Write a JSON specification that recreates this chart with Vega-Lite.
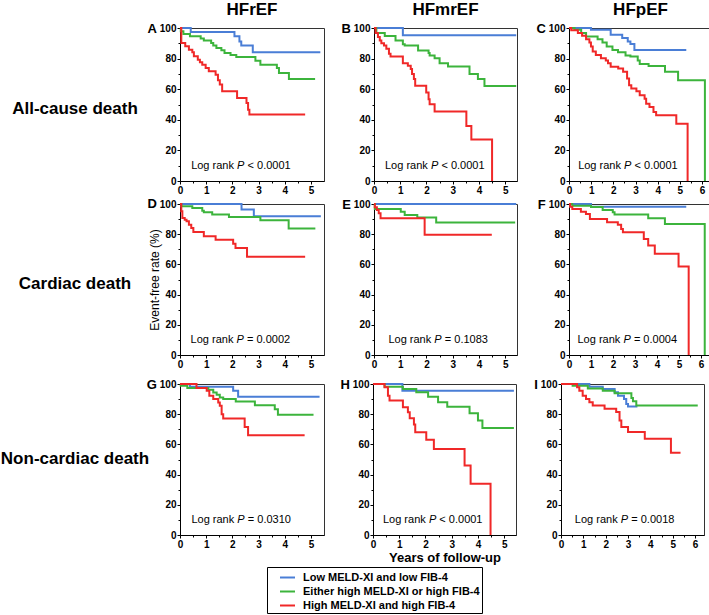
{
  "$schema": "https://vega.github.io/schema/vega-lite/v6.json",
  "background": "white",
  "padding": {"left": 0, "top": 0, "right": 0, "bottom": 0},
  "config": {
    "font": "Liberation Sans",
    "view": {"stroke": "#333", "strokeWidth": 1},
    "axis": {"domainColor": "#000", "domainWidth": 1, "tickColor": "#000", "tickWidth": 1, "labelFontWeight": "bold", "labelFontSize": 10, "labelColor": "#000", "labelPadding": 1, "labelFlush": false, "labelOverlap": false, "grid": false, "titleColor": "#000"},
    "axisX": {"titleFontSize": 13, "titleFontWeight": "bold", "titlePadding": 2},
    "title": {"font": "Liberation Sans", "fontWeight": "bold", "color": "#000"},
    "text": {"color": "#000"}
  },
  "datasets": {
    "stats": [
      {"p": "A", "a": "Log rank", "pv": "P", "b": "< 0.0001"},
      {"p": "B", "a": "Log rank", "pv": "P", "b": "< 0.0001"},
      {"p": "C", "a": "Log rank", "pv": "P", "b": "< 0.0001"},
      {"p": "D", "a": "Log rank", "pv": "P", "b": "= 0.0002"},
      {"p": "E", "a": "Log rank", "pv": "P", "b": "= 0.1083"},
      {"p": "F", "a": "Log rank", "pv": "P", "b": "= 0.0004"},
      {"p": "G", "a": "Log rank", "pv": "P", "b": "= 0.0310"},
      {"p": "H", "a": "Log rank", "pv": "P", "b": "< 0.0001"},
      {"p": "I", "a": "Log rank", "pv": "P", "b": "= 0.0018"}
    ],
    "km": [
      {"p":"A","g":"L","t":0,"s":100},{"p":"A","g":"L","t":0.41,"s":97.4},{"p":"A","g":"L","t":2.08,"s":94.6},{"p":"A","g":"L","t":2.27,"s":91.1},{"p":"A","g":"L","t":2.34,"s":88.5},{"p":"A","g":"L","t":2.78,"s":84.1},{"p":"A","g":"L","t":5.36,"s":84.1},
      {"p":"A","g":"E","t":0,"s":100},{"p":"A","g":"E","t":0.03,"s":97.8},{"p":"A","g":"E","t":0.13,"s":96.1},{"p":"A","g":"E","t":0.38,"s":94.6},{"p":"A","g":"E","t":0.79,"s":93.2},{"p":"A","g":"E","t":0.91,"s":91.9},{"p":"A","g":"E","t":1.19,"s":90.2},{"p":"A","g":"E","t":1.27,"s":88.5},{"p":"A","g":"E","t":1.39,"s":86.9},{"p":"A","g":"E","t":1.58,"s":85.4},{"p":"A","g":"E","t":1.7,"s":83.7},{"p":"A","g":"E","t":1.93,"s":82.4},{"p":"A","g":"E","t":2.15,"s":81},{"p":"A","g":"E","t":2.88,"s":78.6},{"p":"A","g":"E","t":3.07,"s":76},{"p":"A","g":"E","t":3.7,"s":73.9},{"p":"A","g":"E","t":3.78,"s":70.6},{"p":"A","g":"E","t":4.16,"s":66.7},{"p":"A","g":"E","t":5.16,"s":66.7},
      {"p":"A","g":"H","t":0,"s":100},{"p":"A","g":"H","t":0.05,"s":90.2},{"p":"A","g":"H","t":0.2,"s":88},{"p":"A","g":"H","t":0.34,"s":85.8},{"p":"A","g":"H","t":0.47,"s":84.1},{"p":"A","g":"H","t":0.53,"s":81.5},{"p":"A","g":"H","t":0.68,"s":79.3},{"p":"A","g":"H","t":0.76,"s":77.6},{"p":"A","g":"H","t":0.85,"s":76},{"p":"A","g":"H","t":0.98,"s":73.9},{"p":"A","g":"H","t":1.1,"s":71.7},{"p":"A","g":"H","t":1.36,"s":69.5},{"p":"A","g":"H","t":1.45,"s":65.8},{"p":"A","g":"H","t":1.52,"s":63},{"p":"A","g":"H","t":1.61,"s":58.6},{"p":"A","g":"H","t":2.18,"s":54.2},{"p":"A","g":"H","t":2.54,"s":50.9},{"p":"A","g":"H","t":2.6,"s":46.5},{"p":"A","g":"H","t":2.65,"s":43.4},{"p":"A","g":"H","t":4.78,"s":43.4},

      {"p":"B","g":"L","t":0,"s":100},{"p":"B","g":"L","t":1.1,"s":95.2},{"p":"B","g":"L","t":5.42,"s":95.2},
      {"p":"B","g":"E","t":0,"s":100},{"p":"B","g":"E","t":0.09,"s":96.7},{"p":"B","g":"E","t":0.41,"s":94.7},{"p":"B","g":"E","t":0.82,"s":91.9},{"p":"B","g":"E","t":1.1,"s":89.3},{"p":"B","g":"E","t":1.17,"s":88.6},{"p":"B","g":"E","t":1.68,"s":85.3},{"p":"B","g":"E","t":2.08,"s":83.6},{"p":"B","g":"E","t":2.12,"s":82},{"p":"B","g":"E","t":2.31,"s":80.3},{"p":"B","g":"E","t":2.5,"s":77},{"p":"B","g":"E","t":2.82,"s":74.8},{"p":"B","g":"E","t":3.64,"s":70},{"p":"B","g":"E","t":3.96,"s":66.7},{"p":"B","g":"E","t":4.21,"s":62.1},{"p":"B","g":"E","t":5.42,"s":62.1},
      {"p":"B","g":"H","t":0,"s":100},{"p":"B","g":"H","t":0.06,"s":96.7},{"p":"B","g":"H","t":0.15,"s":94.1},{"p":"B","g":"H","t":0.22,"s":91.9},{"p":"B","g":"H","t":0.28,"s":90.1},{"p":"B","g":"H","t":0.38,"s":88.6},{"p":"B","g":"H","t":0.47,"s":86.4},{"p":"B","g":"H","t":0.57,"s":83.1},{"p":"B","g":"H","t":0.63,"s":81.4},{"p":"B","g":"H","t":1.1,"s":77},{"p":"B","g":"H","t":1.29,"s":75.4},{"p":"B","g":"H","t":1.4,"s":73.2},{"p":"B","g":"H","t":1.45,"s":70},{"p":"B","g":"H","t":1.52,"s":66.7},{"p":"B","g":"H","t":1.57,"s":62.3},{"p":"B","g":"H","t":1.99,"s":57.9},{"p":"B","g":"H","t":2.08,"s":53.5},{"p":"B","g":"H","t":2.12,"s":50.2},{"p":"B","g":"H","t":2.31,"s":45.4},{"p":"B","g":"H","t":3.52,"s":36},{"p":"B","g":"H","t":3.71,"s":27.2},{"p":"B","g":"H","t":4.5,"s":0},

      {"p":"C","g":"L","t":0,"s":100},{"p":"C","g":"L","t":0.99,"s":98.9},{"p":"C","g":"L","t":1.88,"s":95.6},{"p":"C","g":"L","t":2.4,"s":93.4},{"p":"C","g":"L","t":2.65,"s":91.2},{"p":"C","g":"L","t":2.77,"s":89.5},{"p":"C","g":"L","t":2.95,"s":85.7},{"p":"C","g":"L","t":5.29,"s":85.7},
      {"p":"C","g":"E","t":0,"s":100},{"p":"C","g":"E","t":0.25,"s":98.9},{"p":"C","g":"E","t":0.55,"s":96.7},{"p":"C","g":"E","t":0.77,"s":94.5},{"p":"C","g":"E","t":1.29,"s":92.7},{"p":"C","g":"E","t":1.51,"s":90.5},{"p":"C","g":"E","t":1.7,"s":87.9},{"p":"C","g":"E","t":1.96,"s":85.7},{"p":"C","g":"E","t":2.21,"s":84.2},{"p":"C","g":"E","t":2.55,"s":82},{"p":"C","g":"E","t":2.77,"s":81.3},{"p":"C","g":"E","t":3.1,"s":78.7},{"p":"C","g":"E","t":3.19,"s":76.5},{"p":"C","g":"E","t":3.59,"s":75.2},{"p":"C","g":"E","t":4.33,"s":71.4},{"p":"C","g":"E","t":4.92,"s":65.9},{"p":"C","g":"E","t":6.13,"s":0},
      {"p":"C","g":"H","t":0,"s":100},{"p":"C","g":"H","t":0.1,"s":98.5},{"p":"C","g":"H","t":0.4,"s":96.7},{"p":"C","g":"H","t":0.59,"s":94.9},{"p":"C","g":"H","t":0.77,"s":92.7},{"p":"C","g":"H","t":0.92,"s":90.5},{"p":"C","g":"H","t":0.99,"s":87.9},{"p":"C","g":"H","t":1.07,"s":84.6},{"p":"C","g":"H","t":1.21,"s":82.4},{"p":"C","g":"H","t":1.44,"s":80.2},{"p":"C","g":"H","t":1.66,"s":78.7},{"p":"C","g":"H","t":1.76,"s":76.9},{"p":"C","g":"H","t":1.88,"s":74.7},{"p":"C","g":"H","t":2.22,"s":73.6},{"p":"C","g":"H","t":2.44,"s":71.4},{"p":"C","g":"H","t":2.62,"s":67},{"p":"C","g":"H","t":2.71,"s":62.6},{"p":"C","g":"H","t":2.81,"s":60.4},{"p":"C","g":"H","t":3.04,"s":58.7},{"p":"C","g":"H","t":3.19,"s":56},{"p":"C","g":"H","t":3.41,"s":53.8},{"p":"C","g":"H","t":3.48,"s":50.5},{"p":"C","g":"H","t":3.63,"s":48.4},{"p":"C","g":"H","t":3.81,"s":45.1},{"p":"C","g":"H","t":3.93,"s":42.9},{"p":"C","g":"H","t":4.84,"s":37.4},{"p":"C","g":"H","t":5.35,"s":0},

      {"p":"D","g":"L","t":0,"s":100},{"p":"D","g":"L","t":2.35,"s":96.3},{"p":"D","g":"L","t":2.82,"s":91.9},{"p":"D","g":"L","t":5.38,"s":91.9},
      {"p":"D","g":"E","t":0,"s":100},{"p":"D","g":"E","t":0.05,"s":98.5},{"p":"D","g":"E","t":0.47,"s":97.4},{"p":"D","g":"E","t":0.85,"s":95.6},{"p":"D","g":"E","t":0.91,"s":94.5},{"p":"D","g":"E","t":1.23,"s":93},{"p":"D","g":"E","t":1.87,"s":91.4},{"p":"D","g":"E","t":3.07,"s":89.2},{"p":"D","g":"E","t":4.15,"s":83.7},{"p":"D","g":"E","t":5.17,"s":83.7},
      {"p":"D","g":"H","t":0,"s":100},{"p":"D","g":"H","t":0.05,"s":95.2},{"p":"D","g":"H","t":0.09,"s":90.7},{"p":"D","g":"H","t":0.18,"s":89.6},{"p":"D","g":"H","t":0.25,"s":88.5},{"p":"D","g":"H","t":0.34,"s":86.3},{"p":"D","g":"H","t":0.43,"s":84.1},{"p":"D","g":"H","t":0.51,"s":81.5},{"p":"D","g":"H","t":0.91,"s":78.6},{"p":"D","g":"H","t":1.36,"s":76.4},{"p":"D","g":"H","t":2.03,"s":73.6},{"p":"D","g":"H","t":2.12,"s":70.9},{"p":"D","g":"H","t":2.56,"s":65},{"p":"D","g":"H","t":4.78,"s":65},

      {"p":"E","g":"L","t":0,"s":100},{"p":"E","g":"L","t":5.42,"s":100},
      {"p":"E","g":"E","t":0,"s":100},{"p":"E","g":"E","t":0.03,"s":96.7},{"p":"E","g":"E","t":1.02,"s":94.9},{"p":"E","g":"E","t":1.17,"s":92.7},{"p":"E","g":"E","t":1.65,"s":91},{"p":"E","g":"E","t":2.37,"s":87.7},{"p":"E","g":"E","t":5.38,"s":87.7},
      {"p":"E","g":"H","t":0,"s":100},{"p":"E","g":"H","t":0.03,"s":97.8},{"p":"E","g":"H","t":0.11,"s":96},{"p":"E","g":"H","t":0.18,"s":93.8},{"p":"E","g":"H","t":0.25,"s":90.5},{"p":"E","g":"H","t":1.93,"s":79.6},{"p":"E","g":"H","t":4.49,"s":79.6},

      {"p":"F","g":"L","t":0,"s":100},{"p":"F","g":"L","t":1.0,"s":98.2},{"p":"F","g":"L","t":5.33,"s":98.2},
      {"p":"F","g":"E","t":0,"s":100},{"p":"F","g":"E","t":0.15,"s":98.9},{"p":"F","g":"E","t":1.0,"s":98},{"p":"F","g":"E","t":1.53,"s":96},{"p":"F","g":"E","t":1.99,"s":94.5},{"p":"F","g":"E","t":2.07,"s":93},{"p":"F","g":"E","t":3.6,"s":90.5},{"p":"F","g":"E","t":4.36,"s":86.8},{"p":"F","g":"E","t":6.17,"s":0},
      {"p":"F","g":"H","t":0,"s":100},{"p":"F","g":"H","t":0.05,"s":98.2},{"p":"F","g":"H","t":0.15,"s":96.7},{"p":"F","g":"H","t":0.54,"s":94.9},{"p":"F","g":"H","t":0.77,"s":93.4},{"p":"F","g":"H","t":0.95,"s":90.1},{"p":"F","g":"H","t":1.73,"s":87.9},{"p":"F","g":"H","t":2.22,"s":86.3},{"p":"F","g":"H","t":2.37,"s":83.5},{"p":"F","g":"H","t":2.45,"s":81.3},{"p":"F","g":"H","t":3.4,"s":76.9},{"p":"F","g":"H","t":3.6,"s":72.5},{"p":"F","g":"H","t":3.9,"s":67},{"p":"F","g":"H","t":4.98,"s":58.6},{"p":"F","g":"H","t":5.44,"s":0},

      {"p":"G","g":"L","t":0,"s":100},{"p":"G","g":"L","t":0.38,"s":98.2},{"p":"G","g":"L","t":2.03,"s":95.6},{"p":"G","g":"L","t":2.22,"s":91.6},{"p":"G","g":"L","t":5.33,"s":91.6},
      {"p":"G","g":"E","t":0,"s":100},{"p":"G","g":"E","t":0.03,"s":98.9},{"p":"G","g":"E","t":0.28,"s":97.3},{"p":"G","g":"E","t":1.08,"s":96.2},{"p":"G","g":"E","t":1.27,"s":94.4},{"p":"G","g":"E","t":1.4,"s":92.9},{"p":"G","g":"E","t":1.52,"s":91.1},{"p":"G","g":"E","t":1.65,"s":90},{"p":"G","g":"E","t":2.13,"s":88.4},{"p":"G","g":"E","t":2.86,"s":86},{"p":"G","g":"E","t":3.62,"s":83.3},{"p":"G","g":"E","t":3.74,"s":79.6},{"p":"G","g":"E","t":5.1,"s":79.6},
      {"p":"G","g":"H","t":0,"s":100},{"p":"G","g":"H","t":0.63,"s":97.3},{"p":"G","g":"H","t":1.02,"s":95.6},{"p":"G","g":"H","t":1.12,"s":92.2},{"p":"G","g":"H","t":1.27,"s":90},{"p":"G","g":"H","t":1.46,"s":87.8},{"p":"G","g":"H","t":1.52,"s":85.6},{"p":"G","g":"H","t":1.59,"s":80},{"p":"G","g":"H","t":1.65,"s":77.1},{"p":"G","g":"H","t":2.47,"s":71.6},{"p":"G","g":"H","t":2.6,"s":66},{"p":"G","g":"H","t":4.76,"s":66},

      {"p":"H","g":"L","t":0,"s":100},{"p":"H","g":"L","t":1.12,"s":95.6},{"p":"H","g":"L","t":5.37,"s":95.6},
      {"p":"H","g":"E","t":0,"s":100},{"p":"H","g":"E","t":0.44,"s":98.2},{"p":"H","g":"E","t":1.14,"s":96.7},{"p":"H","g":"E","t":1.65,"s":94.5},{"p":"H","g":"E","t":2.1,"s":91.6},{"p":"H","g":"E","t":2.48,"s":87.9},{"p":"H","g":"E","t":2.83,"s":85},{"p":"H","g":"E","t":3.68,"s":80.6},{"p":"H","g":"E","t":4.0,"s":75.8},{"p":"H","g":"E","t":4.17,"s":70.9},{"p":"H","g":"E","t":5.37,"s":70.9},
      {"p":"H","g":"H","t":0,"s":100},{"p":"H","g":"H","t":0.44,"s":97.8},{"p":"H","g":"H","t":0.57,"s":92.3},{"p":"H","g":"H","t":0.63,"s":89},{"p":"H","g":"H","t":1.14,"s":84.6},{"p":"H","g":"H","t":1.33,"s":81.3},{"p":"H","g":"H","t":1.4,"s":77.3},{"p":"H","g":"H","t":1.56,"s":73.1},{"p":"H","g":"H","t":1.61,"s":68},{"p":"H","g":"H","t":2.03,"s":63},{"p":"H","g":"H","t":2.32,"s":57},{"p":"H","g":"H","t":3.49,"s":46},{"p":"H","g":"H","t":3.72,"s":33.9},{"p":"H","g":"H","t":4.48,"s":0},

      {"p":"I","g":"L","t":0,"s":100},{"p":"I","g":"L","t":1.27,"s":98.2},{"p":"I","g":"L","t":1.87,"s":96.7},{"p":"I","g":"L","t":2.4,"s":94.5},{"p":"I","g":"L","t":2.55,"s":92.3},{"p":"I","g":"L","t":2.82,"s":90.1},{"p":"I","g":"L","t":2.92,"s":86.8},{"p":"I","g":"L","t":3.0,"s":85.1},{"p":"I","g":"L","t":3.42,"s":85.1},
      {"p":"I","g":"E","t":0,"s":100},{"p":"I","g":"E","t":0.52,"s":98.9},{"p":"I","g":"E","t":1.2,"s":97.1},{"p":"I","g":"E","t":1.87,"s":95.6},{"p":"I","g":"E","t":2.4,"s":93.9},{"p":"I","g":"E","t":3.15,"s":90.8},{"p":"I","g":"E","t":3.22,"s":88.6},{"p":"I","g":"E","t":3.37,"s":85.7},{"p":"I","g":"E","t":6.12,"s":85.7},
      {"p":"I","g":"H","t":0,"s":100},{"p":"I","g":"H","t":0.72,"s":97.8},{"p":"I","g":"H","t":0.82,"s":95.6},{"p":"I","g":"H","t":0.97,"s":92.3},{"p":"I","g":"H","t":1.12,"s":90.1},{"p":"I","g":"H","t":1.27,"s":87.9},{"p":"I","g":"H","t":1.42,"s":85.7},{"p":"I","g":"H","t":1.95,"s":83.6},{"p":"I","g":"H","t":2.47,"s":81.4},{"p":"I","g":"H","t":2.62,"s":75.9},{"p":"I","g":"H","t":2.7,"s":71.5},{"p":"I","g":"H","t":3.0,"s":68.2},{"p":"I","g":"H","t":3.75,"s":63.8},{"p":"I","g":"H","t":4.92,"s":54.4},{"p":"I","g":"H","t":5.35,"s":54.4}
    ]
  },
  "hconcat": [
    {
      "width": 148, "height": 512,
      "view": {"stroke": null},
      "data": {"values": [{"lab": "All-cause death"}, {"lab": "Cardiac death"}, {"lab": "Non-cardiac death"}]},
      "mark": {"type": "text", "fontSize": 17, "fontWeight": "bold", "baseline": "middle"},
      "encoding": {
        "y": {"field": "lab", "type": "nominal", "sort": null, "scale": {"type": "point", "padding": 0.463}, "axis": null},
        "text": {"field": "lab"}
      }
    },
    {
      "vconcat": [
        {
          "concat": [
            {
              "width": 144, "height": 153,
              "title": {"text": "HFrEF", "fontSize": 17, "anchor": "middle", "frame": "group", "baseline": "alphabetic", "offset": -10},
              "resolve": {"axis": {"x": "independent", "y": "independent"}},
              "layer": [
                {"data": {"name": "km"}, "transform": [{"filter": "datum.p == 'A'"}],
                 "mark": {"type": "line", "interpolate": "step-after", "strokeWidth": 2},
                 "encoding": {
                   "x": {"field": "t", "type": "quantitative", "scale": {"domain": [0, 5.5], "nice": false, "zero": false},
                         "axis": {"orient": "bottom", "values": [0,1,2,3,4,5], "tickSize": 3, "labelOverlap": false, "title": null}},
                   "y": {"field": "s", "type": "quantitative", "scale": {"domain": [0, 100], "nice": false},
                         "axis": {"orient": "left", "values": [0,20,40,60,80,100], "tickSize": 3, "labelOverlap": false,
                                  "title": "A", "titleAngle": 0, "titleAnchor": "end", "titleAlign": "right", "titleBaseline": "middle", "titleFontSize": 13, "titleFontWeight": "bold", "titlePadding": 3}},
                   "color": {"field": "g", "type": "nominal", "scale": {"domain": ["L", "E", "H"], "range": ["#4a7ed6", "#3cb43c", "#f02828"]},
                             "legend": {"orient": "none", "legendX": 266, "legendY": 539, "title": null, "direction": "vertical", "symbolType": "stroke", "symbolSize": 225, "symbolStrokeWidth": 2, "labelFontSize": 11, "labelFontWeight": "bold", "labelColor": "#000", "strokeColor": "#000", "fillColor": "white", "padding": 2, "symbolOffset": 10, "rowPadding": -0.7, "labelOffset": 7, "labelLimit": 400,
                                        "labelExpr": "datum.label == 'L' ? 'Low MELD-XI and low FIB-4' : datum.label == 'E' ? 'Either high MELD-XI or high FIB-4' : 'High MELD-XI and high FIB-4'"}}
                 }},
                {"data": {"name": "stats"}, "transform": [{"filter": "datum.p == 'A'"}],
                 "mark": {"type": "text", "fontSize": 11, "baseline": "middle", "align": "right", "dx": -6.8},
                 "encoding": {"x": {"datum": 2.32, "axis": null}, "y": {"datum": 10, "axis": null}, "text": {"field": "a"}}},
                {"data": {"name": "stats"}, "transform": [{"filter": "datum.p == 'A'"}],
                 "mark": {"type": "text", "fontSize": 11, "baseline": "middle", "align": "center", "fontStyle": "italic"},
                 "encoding": {"x": {"datum": 2.32, "axis": null}, "y": {"datum": 10, "axis": null}, "text": {"field": "pv"}}},
                {"data": {"name": "stats"}, "transform": [{"filter": "datum.p == 'A'"}],
                 "mark": {"type": "text", "fontSize": 11, "baseline": "middle", "align": "left", "dx": 6.8},
                 "encoding": {"x": {"datum": 2.32, "axis": null}, "y": {"datum": 10, "axis": null}, "text": {"field": "b"}}},
                {"data": {"name": "stats"}, "transform": [{"filter": "datum.p == 'A'"}],
                 "mark": {"type": "point", "opacity": 0},
                 "encoding": {"x": {"datum": 0, "axis": {"orient": "bottom", "values": [0.5,1.5,2.5,3.5,4.5], "labels": false, "domain": false, "tickSize": 2, "title": null}},
                              "y": {"datum": 0, "axis": {"orient": "left", "values": [10,30,50,70,90], "labels": false, "domain": false, "tickSize": 2, "title": null}}}}
              ]
            },
            {
              "width": 143, "height": 153,
              "title": {"text": "HFmrEF", "fontSize": 17, "anchor": "middle", "frame": "group", "baseline": "alphabetic", "offset": -10},
              "resolve": {"axis": {"x": "independent", "y": "independent"}},
              "layer": [
                {"data": {"name": "km"}, "transform": [{"filter": "datum.p == 'B'"}],
                 "mark": {"type": "line", "interpolate": "step-after", "strokeWidth": 2},
                 "encoding": {
                   "x": {"field": "t", "type": "quantitative", "scale": {"domain": [0, 5.45], "nice": false, "zero": false},
                         "axis": {"orient": "bottom", "values": [0,1,2,3,4,5], "tickSize": 3, "labelOverlap": false, "title": null}},
                   "y": {"field": "s", "type": "quantitative", "scale": {"domain": [0, 100], "nice": false},
                         "axis": {"orient": "left", "values": [0,20,40,60,80,100], "tickSize": 3, "labelOverlap": false,
                                  "title": "B", "titleAngle": 0, "titleAnchor": "end", "titleAlign": "right", "titleBaseline": "middle", "titleFontSize": 13, "titleFontWeight": "bold", "titlePadding": 3}},
                   "color": {"field": "g", "type": "nominal", "scale": {"domain": ["L", "E", "H"], "range": ["#4a7ed6", "#3cb43c", "#f02828"]}}
                 }},
                {"data": {"name": "stats"}, "transform": [{"filter": "datum.p == 'B'"}],
                 "mark": {"type": "text", "fontSize": 11, "baseline": "middle", "align": "right", "dx": -6.8},
                 "encoding": {"x": {"datum": 2.31, "axis": null}, "y": {"datum": 10, "axis": null}, "text": {"field": "a"}}},
                {"data": {"name": "stats"}, "transform": [{"filter": "datum.p == 'B'"}],
                 "mark": {"type": "text", "fontSize": 11, "baseline": "middle", "align": "center", "fontStyle": "italic"},
                 "encoding": {"x": {"datum": 2.31, "axis": null}, "y": {"datum": 10, "axis": null}, "text": {"field": "pv"}}},
                {"data": {"name": "stats"}, "transform": [{"filter": "datum.p == 'B'"}],
                 "mark": {"type": "text", "fontSize": 11, "baseline": "middle", "align": "left", "dx": 6.8},
                 "encoding": {"x": {"datum": 2.31, "axis": null}, "y": {"datum": 10, "axis": null}, "text": {"field": "b"}}},
                {"data": {"name": "stats"}, "transform": [{"filter": "datum.p == 'B'"}],
                 "mark": {"type": "point", "opacity": 0},
                 "encoding": {"x": {"datum": 0, "axis": {"orient": "bottom", "values": [0.5,1.5,2.5,3.5,4.5], "labels": false, "domain": false, "tickSize": 2, "title": null}},
                              "y": {"datum": 0, "axis": {"orient": "left", "values": [10,30,50,70,90], "labels": false, "domain": false, "tickSize": 2, "title": null}}}}
              ]
            },
            {
              "width": 143, "height": 153,
              "title": {"text": "HFpEF", "fontSize": 17, "anchor": "middle", "frame": "group", "baseline": "alphabetic", "offset": -10},
              "resolve": {"axis": {"x": "independent", "y": "independent"}},
              "layer": [
                {"data": {"name": "km"}, "transform": [{"filter": "datum.p == 'C'"}],
                 "mark": {"type": "line", "interpolate": "step-after", "strokeWidth": 2},
                 "encoding": {
                   "x": {"field": "t", "type": "quantitative", "scale": {"domain": [0, 6.45], "nice": false, "zero": false},
                         "axis": {"orient": "bottom", "values": [0,1,2,3,4,5,6], "tickSize": 3, "labelOverlap": false, "title": null}},
                   "y": {"field": "s", "type": "quantitative", "scale": {"domain": [0, 100], "nice": false},
                         "axis": {"orient": "left", "values": [0,20,40,60,80,100], "tickSize": 3, "labelOverlap": false,
                                  "title": "C", "titleAngle": 0, "titleAnchor": "end", "titleAlign": "right", "titleBaseline": "middle", "titleFontSize": 13, "titleFontWeight": "bold", "titlePadding": 3}},
                   "color": {"field": "g", "type": "nominal", "scale": {"domain": ["L", "E", "H"], "range": ["#4a7ed6", "#3cb43c", "#f02828"]}}
                 }},
                {"data": {"name": "stats"}, "transform": [{"filter": "datum.p == 'C'"}],
                 "mark": {"type": "text", "fontSize": 11, "baseline": "middle", "align": "right", "dx": -6.8},
                 "encoding": {"x": {"datum": 2.65, "axis": null}, "y": {"datum": 10, "axis": null}, "text": {"field": "a"}}},
                {"data": {"name": "stats"}, "transform": [{"filter": "datum.p == 'C'"}],
                 "mark": {"type": "text", "fontSize": 11, "baseline": "middle", "align": "center", "fontStyle": "italic"},
                 "encoding": {"x": {"datum": 2.65, "axis": null}, "y": {"datum": 10, "axis": null}, "text": {"field": "pv"}}},
                {"data": {"name": "stats"}, "transform": [{"filter": "datum.p == 'C'"}],
                 "mark": {"type": "text", "fontSize": 11, "baseline": "middle", "align": "left", "dx": 6.8},
                 "encoding": {"x": {"datum": 2.65, "axis": null}, "y": {"datum": 10, "axis": null}, "text": {"field": "b"}}},
                {"data": {"name": "stats"}, "transform": [{"filter": "datum.p == 'C'"}],
                 "mark": {"type": "point", "opacity": 0},
                 "encoding": {"x": {"datum": 0, "axis": {"orient": "bottom", "values": [0.5,1.5,2.5,3.5,4.5,5.5], "labels": false, "domain": false, "tickSize": 2, "title": null}},
                              "y": {"datum": 0, "axis": {"orient": "left", "values": [10,30,50,70,90], "labels": false, "domain": false, "tickSize": 2, "title": null}}}}
              ]
            },
            {
              "width": 144, "height": 151,
              "title": {"text": "D", "fontSize": 13, "anchor": "start", "frame": "group", "baseline": "middle", "offset": -18, "dx": -32.6},
              "resolve": {"axis": {"x": "independent", "y": "independent"}},
              "layer": [
                {"data": {"name": "km"}, "transform": [{"filter": "datum.p == 'D'"}],
                 "mark": {"type": "line", "interpolate": "step-after", "strokeWidth": 2},
                 "encoding": {
                   "x": {"field": "t", "type": "quantitative", "scale": {"domain": [0, 5.5], "nice": false, "zero": false},
                         "axis": {"orient": "bottom", "values": [0,1,2,3,4,5], "tickSize": 3, "labelOverlap": false, "title": null}},
                   "y": {"field": "s", "type": "quantitative", "scale": {"domain": [0, 100], "nice": false},
                         "axis": {"orient": "left", "values": [0,20,40,60,80,100], "tickSize": 3, "labelOverlap": false,
                                  "title": "Event-free rate (%)", "titleFontSize": 12, "titleFontWeight": "normal", "titlePadding": -2}},
                   "color": {"field": "g", "type": "nominal", "scale": {"domain": ["L", "E", "H"], "range": ["#4a7ed6", "#3cb43c", "#f02828"]}}
                 }},
                {"data": {"name": "stats"}, "transform": [{"filter": "datum.p == 'D'"}],
                 "mark": {"type": "text", "fontSize": 11, "baseline": "middle", "align": "right", "dx": -6.8},
                 "encoding": {"x": {"datum": 2.3, "axis": null}, "y": {"datum": 10, "axis": null}, "text": {"field": "a"}}},
                {"data": {"name": "stats"}, "transform": [{"filter": "datum.p == 'D'"}],
                 "mark": {"type": "text", "fontSize": 11, "baseline": "middle", "align": "center", "fontStyle": "italic"},
                 "encoding": {"x": {"datum": 2.3, "axis": null}, "y": {"datum": 10, "axis": null}, "text": {"field": "pv"}}},
                {"data": {"name": "stats"}, "transform": [{"filter": "datum.p == 'D'"}],
                 "mark": {"type": "text", "fontSize": 11, "baseline": "middle", "align": "left", "dx": 6.8},
                 "encoding": {"x": {"datum": 2.3, "axis": null}, "y": {"datum": 10, "axis": null}, "text": {"field": "b"}}},
                {"data": {"name": "stats"}, "transform": [{"filter": "datum.p == 'D'"}],
                 "mark": {"type": "point", "opacity": 0},
                 "encoding": {"x": {"datum": 0, "axis": {"orient": "bottom", "values": [0.5,1.5,2.5,3.5,4.5], "labels": false, "domain": false, "tickSize": 2, "title": null}},
                              "y": {"datum": 0, "axis": {"orient": "left", "values": [10,30,50,70,90], "labels": false, "domain": false, "tickSize": 2, "title": null}}}}
              ]
            },
            {
              "width": 143, "height": 151,
              "resolve": {"axis": {"x": "independent", "y": "independent"}},
              "layer": [
                {"data": {"name": "km"}, "transform": [{"filter": "datum.p == 'E'"}],
                 "mark": {"type": "line", "interpolate": "step-after", "strokeWidth": 2},
                 "encoding": {
                   "x": {"field": "t", "type": "quantitative", "scale": {"domain": [0, 5.45], "nice": false, "zero": false},
                         "axis": {"orient": "bottom", "values": [0,1,2,3,4,5], "tickSize": 3, "labelOverlap": false, "title": null}},
                   "y": {"field": "s", "type": "quantitative", "scale": {"domain": [0, 100], "nice": false},
                         "axis": {"orient": "left", "values": [0,20,40,60,80,100], "tickSize": 3, "labelOverlap": false,
                                  "title": "E", "titleAngle": 0, "titleAnchor": "end", "titleAlign": "right", "titleBaseline": "middle", "titleFontSize": 13, "titleFontWeight": "bold", "titlePadding": 3}},
                   "color": {"field": "g", "type": "nominal", "scale": {"domain": ["L", "E", "H"], "range": ["#4a7ed6", "#3cb43c", "#f02828"]}}
                 }},
                {"data": {"name": "stats"}, "transform": [{"filter": "datum.p == 'E'"}],
                 "mark": {"type": "text", "fontSize": 11, "baseline": "middle", "align": "right", "dx": -6.8},
                 "encoding": {"x": {"datum": 2.44, "axis": null}, "y": {"datum": 10, "axis": null}, "text": {"field": "a"}}},
                {"data": {"name": "stats"}, "transform": [{"filter": "datum.p == 'E'"}],
                 "mark": {"type": "text", "fontSize": 11, "baseline": "middle", "align": "center", "fontStyle": "italic"},
                 "encoding": {"x": {"datum": 2.44, "axis": null}, "y": {"datum": 10, "axis": null}, "text": {"field": "pv"}}},
                {"data": {"name": "stats"}, "transform": [{"filter": "datum.p == 'E'"}],
                 "mark": {"type": "text", "fontSize": 11, "baseline": "middle", "align": "left", "dx": 6.8},
                 "encoding": {"x": {"datum": 2.44, "axis": null}, "y": {"datum": 10, "axis": null}, "text": {"field": "b"}}},
                {"data": {"name": "stats"}, "transform": [{"filter": "datum.p == 'E'"}],
                 "mark": {"type": "point", "opacity": 0},
                 "encoding": {"x": {"datum": 0, "axis": {"orient": "bottom", "values": [0.5,1.5,2.5,3.5,4.5], "labels": false, "domain": false, "tickSize": 2, "title": null}},
                              "y": {"datum": 0, "axis": {"orient": "left", "values": [10,30,50,70,90], "labels": false, "domain": false, "tickSize": 2, "title": null}}}}
              ]
            },
            {
              "width": 143, "height": 151,
              "resolve": {"axis": {"x": "independent", "y": "independent"}},
              "layer": [
                {"data": {"name": "km"}, "transform": [{"filter": "datum.p == 'F'"}],
                 "mark": {"type": "line", "interpolate": "step-after", "strokeWidth": 2},
                 "encoding": {
                   "x": {"field": "t", "type": "quantitative", "scale": {"domain": [0, 6.5], "nice": false, "zero": false},
                         "axis": {"orient": "bottom", "values": [0,1,2,3,4,5,6], "tickSize": 3, "labelOverlap": false, "title": null}},
                   "y": {"field": "s", "type": "quantitative", "scale": {"domain": [0, 100], "nice": false},
                         "axis": {"orient": "left", "values": [0,20,40,60,80,100], "tickSize": 3, "labelOverlap": false,
                                  "title": "F", "titleAngle": 0, "titleAnchor": "end", "titleAlign": "right", "titleBaseline": "middle", "titleFontSize": 13, "titleFontWeight": "bold", "titlePadding": 3}},
                   "color": {"field": "g", "type": "nominal", "scale": {"domain": ["L", "E", "H"], "range": ["#4a7ed6", "#3cb43c", "#f02828"]}}
                 }},
                {"data": {"name": "stats"}, "transform": [{"filter": "datum.p == 'F'"}],
                 "mark": {"type": "text", "fontSize": 11, "baseline": "middle", "align": "right", "dx": -6.8},
                 "encoding": {"x": {"datum": 2.64, "axis": null}, "y": {"datum": 10, "axis": null}, "text": {"field": "a"}}},
                {"data": {"name": "stats"}, "transform": [{"filter": "datum.p == 'F'"}],
                 "mark": {"type": "text", "fontSize": 11, "baseline": "middle", "align": "center", "fontStyle": "italic"},
                 "encoding": {"x": {"datum": 2.64, "axis": null}, "y": {"datum": 10, "axis": null}, "text": {"field": "pv"}}},
                {"data": {"name": "stats"}, "transform": [{"filter": "datum.p == 'F'"}],
                 "mark": {"type": "text", "fontSize": 11, "baseline": "middle", "align": "left", "dx": 6.8},
                 "encoding": {"x": {"datum": 2.64, "axis": null}, "y": {"datum": 10, "axis": null}, "text": {"field": "b"}}},
                {"data": {"name": "stats"}, "transform": [{"filter": "datum.p == 'F'"}],
                 "mark": {"type": "point", "opacity": 0},
                 "encoding": {"x": {"datum": 0, "axis": {"orient": "bottom", "values": [0.5,1.5,2.5,3.5,4.5,5.5], "labels": false, "domain": false, "tickSize": 2, "title": null}},
                              "y": {"datum": 0, "axis": {"orient": "left", "values": [10,30,50,70,90], "labels": false, "domain": false, "tickSize": 2, "title": null}}}}
              ]
            }
          ],
          "columns": 3,
          "spacing": {"row": 1, "column": 14}
        },
        {
          "hconcat": [
            {
              "width": 144, "height": 151,
              "resolve": {"axis": {"x": "independent", "y": "independent"}},
              "layer": [
                {"data": {"name": "km"}, "transform": [{"filter": "datum.p == 'G'"}],
                 "mark": {"type": "line", "interpolate": "step-after", "strokeWidth": 2},
                 "encoding": {
                   "x": {"field": "t", "type": "quantitative", "scale": {"domain": [0, 5.5], "nice": false, "zero": false},
                         "axis": {"orient": "bottom", "values": [0,1,2,3,4,5], "tickSize": 3, "labelOverlap": false, "title": null}},
                   "y": {"field": "s", "type": "quantitative", "scale": {"domain": [0, 100], "nice": false},
                         "axis": {"orient": "left", "values": [0,20,40,60,80,100], "tickSize": 3, "labelOverlap": false,
                                  "title": "G", "titleAngle": 0, "titleAnchor": "end", "titleAlign": "right", "titleBaseline": "middle", "titleFontSize": 13, "titleFontWeight": "bold", "titlePadding": 3}},
                   "color": {"field": "g", "type": "nominal", "scale": {"domain": ["L", "E", "H"], "range": ["#4a7ed6", "#3cb43c", "#f02828"]}}
                 }},
                {"data": {"name": "stats"}, "transform": [{"filter": "datum.p == 'G'"}],
                 "mark": {"type": "text", "fontSize": 11, "baseline": "middle", "align": "right", "dx": -6.8},
                 "encoding": {"x": {"datum": 2.33, "axis": null}, "y": {"datum": 10, "axis": null}, "text": {"field": "a"}}},
                {"data": {"name": "stats"}, "transform": [{"filter": "datum.p == 'G'"}],
                 "mark": {"type": "text", "fontSize": 11, "baseline": "middle", "align": "center", "fontStyle": "italic"},
                 "encoding": {"x": {"datum": 2.33, "axis": null}, "y": {"datum": 10, "axis": null}, "text": {"field": "pv"}}},
                {"data": {"name": "stats"}, "transform": [{"filter": "datum.p == 'G'"}],
                 "mark": {"type": "text", "fontSize": 11, "baseline": "middle", "align": "left", "dx": 6.8},
                 "encoding": {"x": {"datum": 2.33, "axis": null}, "y": {"datum": 10, "axis": null}, "text": {"field": "b"}}},
                {"data": {"name": "stats"}, "transform": [{"filter": "datum.p == 'G'"}],
                 "mark": {"type": "point", "opacity": 0},
                 "encoding": {"x": {"datum": 0, "axis": {"orient": "bottom", "values": [0.5,1.5,2.5,3.5,4.5], "labels": false, "domain": false, "tickSize": 2, "title": null}},
                              "y": {"datum": 0, "axis": {"orient": "left", "values": [10,30,50,70,90], "labels": false, "domain": false, "tickSize": 2, "title": null}}}}
              ]
            },
            {
              "width": 143, "height": 151,
              "resolve": {"axis": {"x": "independent", "y": "independent"}},
              "layer": [
                {"data": {"name": "km"}, "transform": [{"filter": "datum.p == 'H'"}],
                 "mark": {"type": "line", "interpolate": "step-after", "strokeWidth": 2},
                 "encoding": {
                   "x": {"field": "t", "type": "quantitative", "scale": {"domain": [0, 5.45], "nice": false, "zero": false},
                         "axis": {"orient": "bottom", "values": [0,1,2,3,4,5], "tickSize": 3, "labelOverlap": false, "title": "Years of follow-up"}},
                   "y": {"field": "s", "type": "quantitative", "scale": {"domain": [0, 100], "nice": false},
                         "axis": {"orient": "left", "values": [0,20,40,60,80,100], "tickSize": 3, "labelOverlap": false,
                                  "title": "H", "titleAngle": 0, "titleAnchor": "end", "titleAlign": "right", "titleBaseline": "middle", "titleFontSize": 13, "titleFontWeight": "bold", "titlePadding": 3}},
                   "color": {"field": "g", "type": "nominal", "scale": {"domain": ["L", "E", "H"], "range": ["#4a7ed6", "#3cb43c", "#f02828"]}}
                 }},
                {"data": {"name": "stats"}, "transform": [{"filter": "datum.p == 'H'"}],
                 "mark": {"type": "text", "fontSize": 11, "baseline": "middle", "align": "right", "dx": -6.8},
                 "encoding": {"x": {"datum": 2.27, "axis": null}, "y": {"datum": 10, "axis": null}, "text": {"field": "a"}}},
                {"data": {"name": "stats"}, "transform": [{"filter": "datum.p == 'H'"}],
                 "mark": {"type": "text", "fontSize": 11, "baseline": "middle", "align": "center", "fontStyle": "italic"},
                 "encoding": {"x": {"datum": 2.27, "axis": null}, "y": {"datum": 10, "axis": null}, "text": {"field": "pv"}}},
                {"data": {"name": "stats"}, "transform": [{"filter": "datum.p == 'H'"}],
                 "mark": {"type": "text", "fontSize": 11, "baseline": "middle", "align": "left", "dx": 6.8},
                 "encoding": {"x": {"datum": 2.27, "axis": null}, "y": {"datum": 10, "axis": null}, "text": {"field": "b"}}},
                {"data": {"name": "stats"}, "transform": [{"filter": "datum.p == 'H'"}],
                 "mark": {"type": "point", "opacity": 0},
                 "encoding": {"x": {"datum": 0, "axis": {"orient": "bottom", "values": [0.5,1.5,2.5,3.5,4.5], "labels": false, "domain": false, "tickSize": 2, "title": null}},
                              "y": {"datum": 0, "axis": {"orient": "left", "values": [10,30,50,70,90], "labels": false, "domain": false, "tickSize": 2, "title": null}}}}
              ]
            },
            {
              "width": 143, "height": 151,
              "resolve": {"axis": {"x": "independent", "y": "independent"}},
              "layer": [
                {"data": {"name": "km"}, "transform": [{"filter": "datum.p == 'I'"}],
                 "mark": {"type": "line", "interpolate": "step-after", "strokeWidth": 2},
                 "encoding": {
                   "x": {"field": "t", "type": "quantitative", "scale": {"domain": [0, 6.4], "nice": false, "zero": false},
                         "axis": {"orient": "bottom", "values": [0,1,2,3,4,5,6], "tickSize": 3, "labelOverlap": false, "title": null}},
                   "y": {"field": "s", "type": "quantitative", "scale": {"domain": [0, 100], "nice": false},
                         "axis": {"orient": "left", "values": [0,20,40,60,80,100], "tickSize": 3, "labelOverlap": false,
                                  "title": "I", "titleAngle": 0, "titleAnchor": "end", "titleAlign": "right", "titleBaseline": "middle", "titleFontSize": 13, "titleFontWeight": "bold", "titlePadding": 3}},
                   "color": {"field": "g", "type": "nominal", "scale": {"domain": ["L", "E", "H"], "range": ["#4a7ed6", "#3cb43c", "#f02828"]}}
                 }},
                {"data": {"name": "stats"}, "transform": [{"filter": "datum.p == 'I'"}],
                 "mark": {"type": "text", "fontSize": 11, "baseline": "middle", "align": "right", "dx": -6.8},
                 "encoding": {"x": {"datum": 2.84, "axis": null}, "y": {"datum": 10, "axis": null}, "text": {"field": "a"}}},
                {"data": {"name": "stats"}, "transform": [{"filter": "datum.p == 'I'"}],
                 "mark": {"type": "text", "fontSize": 11, "baseline": "middle", "align": "center", "fontStyle": "italic"},
                 "encoding": {"x": {"datum": 2.84, "axis": null}, "y": {"datum": 10, "axis": null}, "text": {"field": "pv"}}},
                {"data": {"name": "stats"}, "transform": [{"filter": "datum.p == 'I'"}],
                 "mark": {"type": "text", "fontSize": 11, "baseline": "middle", "align": "left", "dx": 6.8},
                 "encoding": {"x": {"datum": 2.84, "axis": null}, "y": {"datum": 10, "axis": null}, "text": {"field": "b"}}},
                {"data": {"name": "stats"}, "transform": [{"filter": "datum.p == 'I'"}],
                 "mark": {"type": "point", "opacity": 0},
                 "encoding": {"x": {"datum": 0, "axis": {"orient": "bottom", "values": [0.5,1.5,2.5,3.5,4.5,5.5], "labels": false, "domain": false, "tickSize": 2, "title": null}},
                              "y": {"datum": 0, "axis": {"orient": "left", "values": [10,30,50,70,90], "labels": false, "domain": false, "tickSize": 2, "title": null}}}}
              ]
            }
          ],
          "spacing": 14
        }
      ],
      "spacing": 7
    }
  ],
  "spacing": -5
}
